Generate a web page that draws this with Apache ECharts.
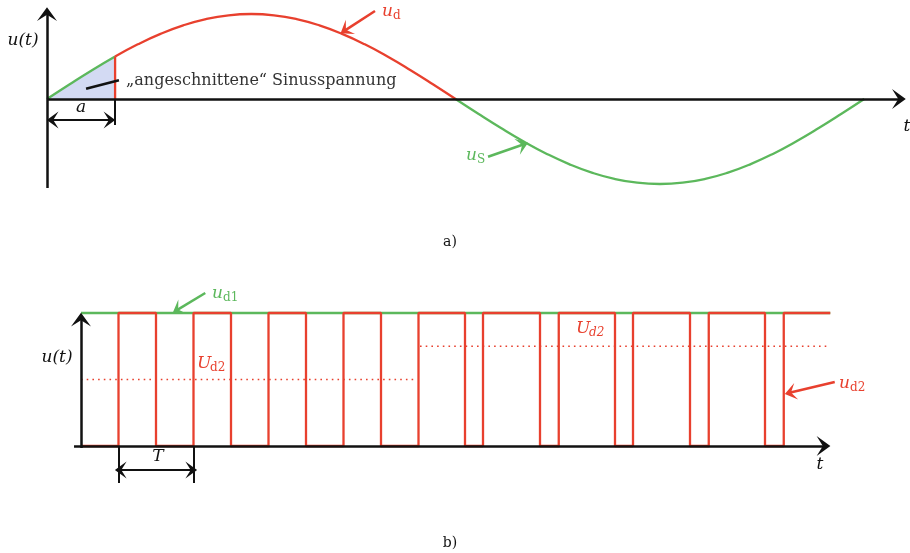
<!DOCTYPE html>
<html>
<head>
<meta charset="utf-8">
<script src="https://cdn.jsdelivr.net/npm/echarts@6/dist/echarts.min.js"></script>
<style>
html, body { margin: 0; padding: 0; background: #fff; }
#chart { width: 910px; height: 553px; }
</style>
</head>
<body>
<div id="chart"></div>
<script>
// a) sine, read every 10 degrees
const sineAngles = [0, 10, 20, 30, 40, 50, 60, 70, 80, 90, 100, 110, 120, 130, 140, 150, 160, 170, 180,
	190, 200, 210, 220, 230, 240, 250, 260, 270, 280, 290, 300, 310, 320, 330, 340, 350, 360];
const sineValues = [0, 0.174, 0.342, 0.5, 0.643, 0.766, 0.866, 0.94, 0.985, 1, 0.985, 0.94, 0.866, 0.766, 0.643, 0.5, 0.342, 0.174, 0,
	-0.174, -0.342, -0.5, -0.643, -0.766, -0.866, -0.94, -0.985, -1, -0.985, -0.94, -0.866, -0.766, -0.643, -0.5, -0.342, -0.174, 0];
const cutAngle = 30;
const cutValue = 0.5;
const halfAngle = 180;

// b) pulse train, time in units of T
const risingEdges = [0.5, 1.5, 2.5, 3.5, 4.5, 5.36, 6.37, 7.36, 8.37, 9.37];
const fallingEdges = [1.0, 2.0, 3.0, 4.0, 5.12, 6.12, 7.12, 8.12, 9.12];
const waveEnd = 9.99;
const ud1Level = 1;
const meanLevels = [0.5, 0.75];
const meanSpans = [[0, 4.45], [4.52, 9.99]];

const RED = '#e8402e';
const GREEN = '#5cb85c';
const FILL = '#d3daf3';
const INK = '#111';
const ARROW = 'path://M0,0 L8,11 L0,6 L-8,11 Z';

let chart = echarts.init(document.getElementById('chart'));

let piece = (a0, a1) => sineAngles
	.map((a, i) => [a, sineValues[i]])
	.filter(p => p[0] >= a0 && p[0] <= a1);

let edges = risingEdges.map(x => [x, 1])
	.concat(fallingEdges.map(x => [x, 0]))
	.sort((a, b) => a[0] - b[0]);
let wave = [[0, 0]];
edges.forEach(([x, lvl]) => {
	wave.push([x, 1 - lvl]);
	wave.push([x, lvl]);
});
wave.push([waveEnd, 1]);

let seg = (a, b, color, width, from, to, size) => [
	{coord: a, symbol: from || 'none', symbolSize: size || 14, lineStyle: {color: color, width: width, type: 'solid'}},
	{coord: b, symbol: to || 'none', symbolSize: size || 14},
];

let markLines = (data) => ({
	silent: true,
	animation: false,
	symbolKeepAspect: true,
	label: {show: false},
	emphasis: {disabled: true},
	data: data,
});

let line = (idx, data, color, extra) => Object.assign({
	type: 'line',
	xAxisIndex: idx,
	yAxisIndex: idx,
	data: data,
	showSymbol: false,
	symbol: 'none',
	silent: true,
	clip: false,
	animation: false,
	lineStyle: {color: color, width: 2.3},
}, extra || {});

let txt = (x, y, s, font, color, align) => ({
	type: 'text',
	x: x,
	y: y,
	silent: true,
	style: {
		text: s,
		font: font,
		fill: color || INK,
		textAlign: align || 'center',
		textVerticalAlign: 'middle',
	},
});
let IT = 'italic 17px "DejaVu Serif"';
let SUB = '12px "DejaVu Serif"';
let SUBI = 'italic 12px "DejaVu Serif"';
let sub = (x, y, main, s, color, subFont) => [
	txt(x, y, main, IT, color, 'left'),
	txt(x + (main === 'U' ? 13 : 11), y + 4, s, subFont || SUB, color, 'left'),
];

chart.setOption({
	animation: false,
	grid: [
		{left: 47, width: 860.3, top: 5.5, height: 195.5},
		{left: 66, width: 780, top: 279.75, height: 212.8},
	],
	xAxis: [
		{type: 'value', gridIndex: 0, min: 0, max: 379, show: false},
		{type: 'value', gridIndex: 1, min: -0.2, max: 10.2, show: false},
	],
	yAxis: [
		{type: 'value', gridIndex: 0, min: -1.2, max: 1.1, show: false},
		{type: 'value', gridIndex: 1, min: -0.35, max: 1.25, show: false},
	],
	series: [
		// a)
		line(0, piece(0, cutAngle), GREEN, {smooth: 0.5, areaStyle: {color: FILL, opacity: 1}}),
		line(0, piece(halfAngle, 360), GREEN, {smooth: 0.5}),
		line(0, piece(cutAngle, halfAngle), RED, {smooth: 0.5}),
		line(0, [[cutAngle, 0], [cutAngle, cutValue]], RED),
		line(0, [], INK, {
			z: 5,
			markLine: markLines([
				seg([0, 0], [375.3, 0], INK, 2.5, 'none', ARROW, 20),
				seg([0, -1.047], [0, 1.0], INK, 2.5, 'none', ARROW, 20),
				seg([2.5, -0.247], [cutAngle - 2.5, -0.247], INK, 2, ARROW, ARROW, 17),
				seg([cutAngle, 0], [cutAngle, -0.306], INK, 2),
				seg([17.2, 0.12], [31.7, 0.22], INK, 2.5),
				seg([144.5, 1.035], [131.5, 0.81], RED, 2.5, 'none', ARROW, 17),
				seg([194.3, -0.68], [209.5, -0.538], GREEN, 2.5, 'none', ARROW, 17),
			]),
		}),
		// b)
		line(1, [[0, ud1Level], [waveEnd, ud1Level]], GREEN),
		line(1, wave, RED),
		line(1, [[meanSpans[0][0], meanLevels[0]], [meanSpans[0][1], meanLevels[0]]], RED,
			{lineStyle: {color: RED, width: 1.6, type: [1.6, 4.1]}}),
		line(1, [[meanSpans[1][0], meanLevels[1]], [meanSpans[1][1], meanLevels[1]]], RED,
			{lineStyle: {color: RED, width: 1.6, type: [1.6, 4.1]}}),
		line(1, [], INK, {
			z: 5,
			markLine: markLines([
				seg([-0.093, 0], [9.9, 0], INK, 2.5, 'none', ARROW, 20),
				seg([0, -0.015], [0, 0.95], INK, 2.5, 'none', ARROW, 20),
				seg([0.53, -0.18], [1.47, -0.18], INK, 2, ARROW, ARROW, 17),
				seg([0.5, 0], [0.5, -0.278], INK, 2),
				seg([1.5, 0], [1.5, -0.278], INK, 2),
				seg([1.657, 1.15], [1.29, 1.025], GREEN, 2.5, 'none', ARROW, 17),
				seg([10.05, 0.481], [9.46, 0.402], RED, 2.5, 'none', ARROW, 17),
			]),
		}),
	],
	graphic: [
		txt(23, 41, 'u(t)', IT),
		txt(907, 127, 't', IT),
		txt(81, 108, 'a', IT),
		txt(126, 81, '„angeschnittene“ Sinusspannung', '16px "DejaVu Serif"', '#333', 'left'),
		...sub(382, 12, 'u', 'd', RED),
		...sub(466, 156, 'u', 'S', GREEN),
		txt(450, 242, 'a)', '14px "DejaVu Serif"'),
		...sub(212, 294, 'u', 'd1', GREEN),
		...sub(197, 364, 'U', 'd2', RED),
		...sub(576, 329, 'U', 'd2', RED, SUBI),
		...sub(839, 384, 'u', 'd2', RED),
		txt(57, 358, 'u(t)', IT),
		txt(158, 457, 'T', IT),
		txt(820, 465, 't', IT),
		txt(450, 543, 'b)', '14px "DejaVu Serif"'),
	],
});
</script>
</body>
</html>
